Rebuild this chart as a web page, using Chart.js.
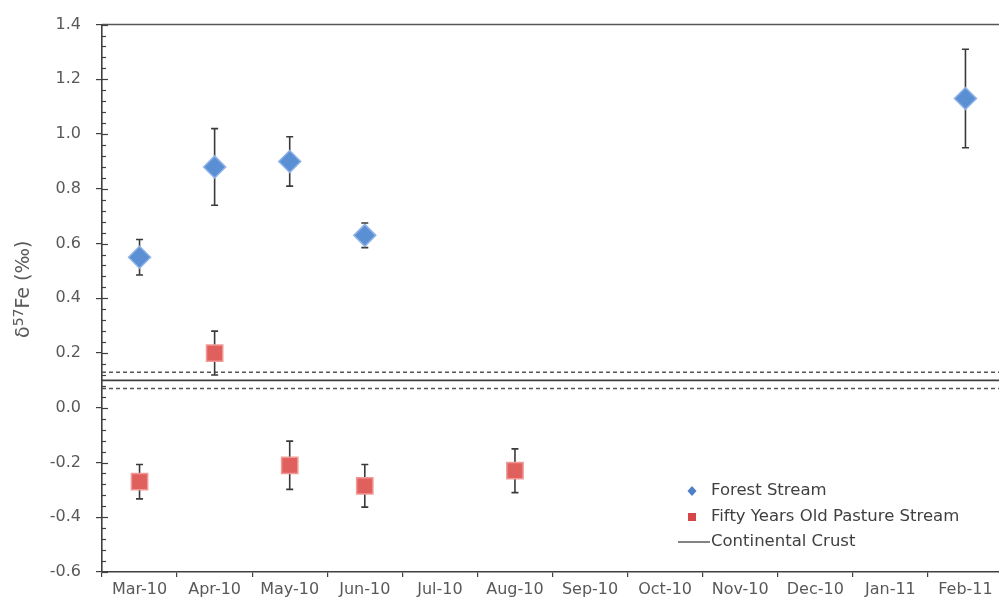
<!DOCTYPE html>
<html>
<head>
<meta charset="utf-8">
<script src="https://cdn.jsdelivr.net/npm/chart.js@4.4.1/dist/chart.umd.min.js"></script>
<style>
  html, body { margin: 0; padding: 0; background: #fff; }
  #wrap { width: 999px; height: 610px; overflow: hidden; position: relative; }
  canvas { display: block; }
</style>
</head>
<body>
<div id="wrap"><canvas id="c" width="1016" height="610"></canvas></div>
<script>
// Sampling months
const months = ['Mar-10', 'Apr-10', 'May-10', 'Jun-10', 'Jul-10', 'Aug-10',
                'Sep-10', 'Oct-10', 'Nov-10', 'Dec-10', 'Jan-11', 'Feb-11'];

// δ57Fe (‰) and 2SD uncertainty per month
const forest    = [0.55, 0.88, 0.90, 0.63, null, null, null, null, null, null, null, 1.13];
const forestErr = [0.065, 0.14, 0.09, 0.045, null, null, null, null, null, null, null, 0.18];

const pasture    = [-0.27, 0.20, -0.21, -0.285, null, -0.23, null, null, null, null, null, null];
const pastureErr = [0.063, 0.08, 0.088, 0.078, null, 0.08, null, null, null, null, null, null];

// Continental crust reference value and its range
const crustValue = 0.10;
const crustRange = [0.07, 0.13];

// Y axis ticks
const yMin = -0.6, yMax = 1.4, yStep = 0.2, yMinorStep = 0.04;

const FONT = 'DejaVu Sans';
const AXIS = '#404040';
const TEXT = '#595959';

const errorBars = {
  id: 'errorBars',
  beforeDatasetsDraw(chart) {
    const { ctx, chartArea, scales: { y } } = chart;
    ctx.save();
    // continental crust: solid value line with dashed range lines
    ctx.strokeStyle = '#404040';
    ctx.lineWidth = 1.6;
    ctx.beginPath();
    ctx.moveTo(chartArea.left, y.getPixelForValue(crustValue));
    ctx.lineTo(chartArea.right, y.getPixelForValue(crustValue));
    ctx.stroke();
    ctx.setLineDash([4, 3]);
    ctx.lineWidth = 1.5;
    ctx.strokeStyle = '#555';
    crustRange.forEach(v => {
      ctx.beginPath();
      ctx.moveTo(chartArea.left, y.getPixelForValue(v));
      ctx.lineTo(chartArea.right, y.getPixelForValue(v));
      ctx.stroke();
    });
    ctx.setLineDash([]);

    // whiskers
    const sets = [[forest, forestErr], [pasture, pastureErr]];
    ctx.strokeStyle = '#3a3a3a';
    ctx.lineWidth = 1.6;
    sets.forEach(([vals, errs], di) => {
      const meta = chart.getDatasetMeta(di);
      vals.forEach((v, i) => {
        if (v === null || errs[i] === null) return;
        const x = meta.data[i].x;
        const top = y.getPixelForValue(v + errs[i]);
        const bot = y.getPixelForValue(v - errs[i]);
        ctx.beginPath();
        ctx.moveTo(x, top); ctx.lineTo(x, bot);
        ctx.moveTo(x - 3.5, top); ctx.lineTo(x + 3.5, top);
        ctx.moveTo(x - 3.5, bot); ctx.lineTo(x + 3.5, bot);
        ctx.stroke();
      });
    });
    ctx.restore();
  },
  afterDraw(chart) {
    const { ctx, chartArea, scales: { y } } = chart;
    ctx.save();
    // frame top edge
    ctx.strokeStyle = '#555';
    ctx.lineWidth = 1.5;
    ctx.beginPath();
    ctx.moveTo(chartArea.left, chartArea.top);
    ctx.lineTo(chartArea.right, chartArea.top);
    ctx.stroke();

    // inner halves of the major ticks and the minor ticks on the y axis
    ctx.strokeStyle = AXIS;
    ctx.lineWidth = 1.2;
    const x0 = chartArea.left;
    const n = Math.round((yMax - yMin) / yMinorStep);
    for (let k = 0; k <= n; k++) {
      const v = yMin + k * yMinorStep;
      const py = Math.round(y.getPixelForValue(v)) + 0.5;
      const major = (k % Math.round(yStep / yMinorStep)) === 0;
      ctx.beginPath();
      ctx.moveTo(x0, py);
      ctx.lineTo(x0 + (major ? 6 : 4), py);
      ctx.stroke();
    }

    // y axis title with superscript mass number
    ctx.save();
    ctx.translate(24, (chartArea.top + chartArea.bottom) / 2 - 9);
    ctx.rotate(-Math.PI / 2);
    ctx.fillStyle = TEXT;
    ctx.textBaseline = 'middle';
    const big = '19px ' + FONT, small = '14px ' + FONT;
    const parts = [['δ', big, 0], ['57', small, -5], ['Fe (‰)', big, 0]];
    let total = 0;
    parts.forEach(p => { ctx.font = p[1]; total += ctx.measureText(p[0]).width; });
    let cx = -total / 2;
    ctx.textAlign = 'left';
    parts.forEach(p => {
      ctx.font = p[1];
      ctx.fillText(p[0], cx, p[2]);
      cx += ctx.measureText(p[0]).width;
    });
    ctx.restore();

    // legend
    ctx.textBaseline = 'middle';
    ctx.textAlign = 'left';
    const lx = 692, tx = 711;
    ctx.fillStyle = '#4f7fc4';
    ctx.beginPath();
    ctx.moveTo(lx, 486); ctx.lineTo(lx + 4.5, 491); ctx.lineTo(lx, 496); ctx.lineTo(lx - 4.5, 491);
    ctx.closePath(); ctx.fill();
    ctx.fillStyle = '#d6474a';
    ctx.fillRect(lx - 4, 513, 8, 8);
    ctx.strokeStyle = '#404040';
    ctx.lineWidth = 1.3;
    ctx.beginPath(); ctx.moveTo(678, 542); ctx.lineTo(710, 542); ctx.stroke();
    ctx.font = '16.5px ' + FONT;
    ctx.fillStyle = '#404040';
    ctx.fillText('Forest Stream', tx, 491);
    ctx.fillText('Fifty Years Old Pasture Stream', tx, 517);
    ctx.fillText('Continental Crust', tx, 542);
    ctx.restore();
  }
};

new Chart(document.getElementById('c'), {
  type: 'line',
  data: {
    labels: months,
    datasets: [
      {
        label: 'Forest Stream',
        data: forest,
        showLine: false,
        pointStyle: 'rectRot',
        pointRadius: 11,
        pointBackgroundColor: '#5b8fd4',
        pointBorderColor: '#8fb3e6',
        pointBorderWidth: 1.5
      },
      {
        label: 'Fifty Years Old Pasture Stream',
        data: pasture,
        showLine: false,
        pointStyle: 'rect',
        pointRadius: 11.5,
        pointBackgroundColor: '#e0605e',
        pointBorderColor: '#f09a98',
        pointBorderWidth: 1.5
      }
    ]
  },
  options: {
    responsive: false,
    animation: false,
    events: [],
    layout: { padding: { top: 24, right: 2, bottom: 0, left: 0 } },
    plugins: { legend: { display: false }, tooltip: { enabled: false } },
    scales: {
      x: {
        type: 'category',
        offset: true,
        grid: { offset: true, drawOnChartArea: false, drawTicks: true, tickLength: 5, color: AXIS, lineWidth: 1.2 },
        border: { display: true, color: AXIS, width: 1.6 },
        ticks: { color: TEXT, font: { family: FONT, size: 16 }, maxRotation: 0, autoSkip: false, padding: 3 },
        afterFit(scale) { scale.height = 38; }
      },
      y: {
        min: yMin,
        max: yMax,
        grid: { drawOnChartArea: false, drawTicks: true, tickLength: 6, color: AXIS, lineWidth: 1.2 },
        border: { display: true, color: AXIS, width: 1.6 },
        ticks: {
          stepSize: yStep,
          color: TEXT,
          font: { family: FONT, size: 16 },
          padding: 15,
          callback: v => (Math.abs(v) < 1e-9 ? 0 : v).toFixed(1)
        },
        afterFit(scale) { scale.width = 102; }
      }
    }
  },
  plugins: [errorBars]
});
</script>
</body>
</html>
